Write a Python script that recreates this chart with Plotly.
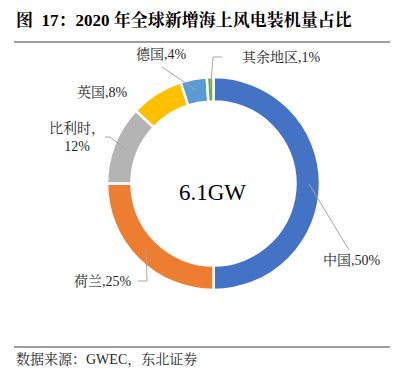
import math
import plotly.graph_objects as go

# ---- data ----
regions = ["中国", "荷兰", "比利时", "英国", "德国", "其余地区"]
shares = [50, 25, 12, 8, 4, 1]
colors = ["#4472C4", "#ED7D31", "#B4B4B4", "#FFC000", "#5B9BD5", "#70AD47"]
center_text = "6.1GW"
title_text = "图  17：2020 年全球新增海上风电装机量占比"
source_text = "数据来源：GWEC，东北证券"

# page body has an 8px default margin; size the figure to fit the window
OFF = 8
W, H = 410 - OFF, 377 - 2 * OFF
CX, CY, R = 213.5, 183.5, 106.5
HOLE = 0.77

SERIF = "Times New Roman, Liberation Serif, Noto Serif CJK SC, Noto Sans CJK SC, serif"


def px(x):
    return (x - OFF) / W


def py(y):
    return 1 - (y - OFF) / H


fig = go.Figure(go.Pie(
    labels=regions, values=shares, sort=False, direction="clockwise",
    rotation=0, hole=HOLE,
    marker=dict(colors=colors, line=dict(color="white", width=2.5)),
    textinfo="none", hoverinfo="label+percent", showlegend=False,
    domain=dict(x=[px(CX - R), px(CX + R)], y=[py(CY + R), py(CY - R)]),
))

# mid-angle anchor points for leader lines (computed from data)
total = sum(shares)
cum = 0
anchors = []
for v in shares:
    th = 2 * math.pi * (cum + v / 2) / total
    cum += v
    r = R * (1 + HOLE) / 2 + 1
    anchors.append((CX + r * math.sin(th), CY - r * math.cos(th)))

# label placement: (text, x, y, xanchor, leader elbow points)
label_specs = [
    (f"{regions[0]},{shares[0]}%", 321, 260, "left", [(349, 250)]),
    (f"{regions[1]},{shares[1]}%", 134, 281, "right", [(147, 281), (138, 281)]),
    (f"{regions[2]}，<br>{shares[2]}%", 77, 137, "center", [(110, 137), (105, 137)]),
    (f"{regions[3]},{shares[3]}%", 102, 92, "center", None),
    (f"{regions[4]},{shares[4]}%", 161, 54, "center", [(162, 67)]),
    (f"{regions[5]},{shares[5]}%", 240, 57, "left", [(213, 57), (222, 57)]),
]

annotations = []
shapes = []
for i, (txt, x, y, xa, pts) in enumerate(label_specs):
    annotations.append(dict(
        text=txt, x=px(x), y=py(y), xref="paper", yref="paper",
        xanchor=xa, yanchor="middle", showarrow=False, align="center",
        font=dict(family=SERIF, size=14, color="#262626"),
    ))
    if pts:
        path_pts = [anchors[i]] + pts
        d = "M " + " L ".join(f"{px(a)},{py(b)}" for a, b in path_pts)
        shapes.append(dict(type="path", path=d, xref="paper", yref="paper",
                           line=dict(color="#A6A6A6", width=1)))

annotations.append(dict(
    text=center_text, x=px(CX - 1), y=py(CY + 9), xref="paper", yref="paper",
    xanchor="center", yanchor="middle", showarrow=False,
    font=dict(family=SERIF, size=23, color="black"),
))
annotations.append(dict(
    text=f"<b>{title_text}</b>", x=px(14), y=py(8), xref="paper", yref="paper",
    xanchor="left", yanchor="top", showarrow=False,
    font=dict(family=SERIF, size=17, color="black"),
))
annotations.append(dict(
    text=source_text, x=px(14), y=py(359), xref="paper", yref="paper",
    xanchor="left", yanchor="middle", showarrow=False,
    font=dict(family=SERIF, size=14, color="#262626"),
))

for yy in (42, 347):
    shapes.append(dict(type="line", x0=px(14), x1=px(390), y0=py(yy), y1=py(yy),
                       xref="paper", yref="paper",
                       line=dict(color="#7F7F7F", width=1.5)))

fig.update_layout(
    width=W, height=H, margin=dict(l=0, r=0, t=0, b=0),
    paper_bgcolor="white", plot_bgcolor="white",
    annotations=annotations, shapes=shapes,
)

fig.write_html("out.html")
